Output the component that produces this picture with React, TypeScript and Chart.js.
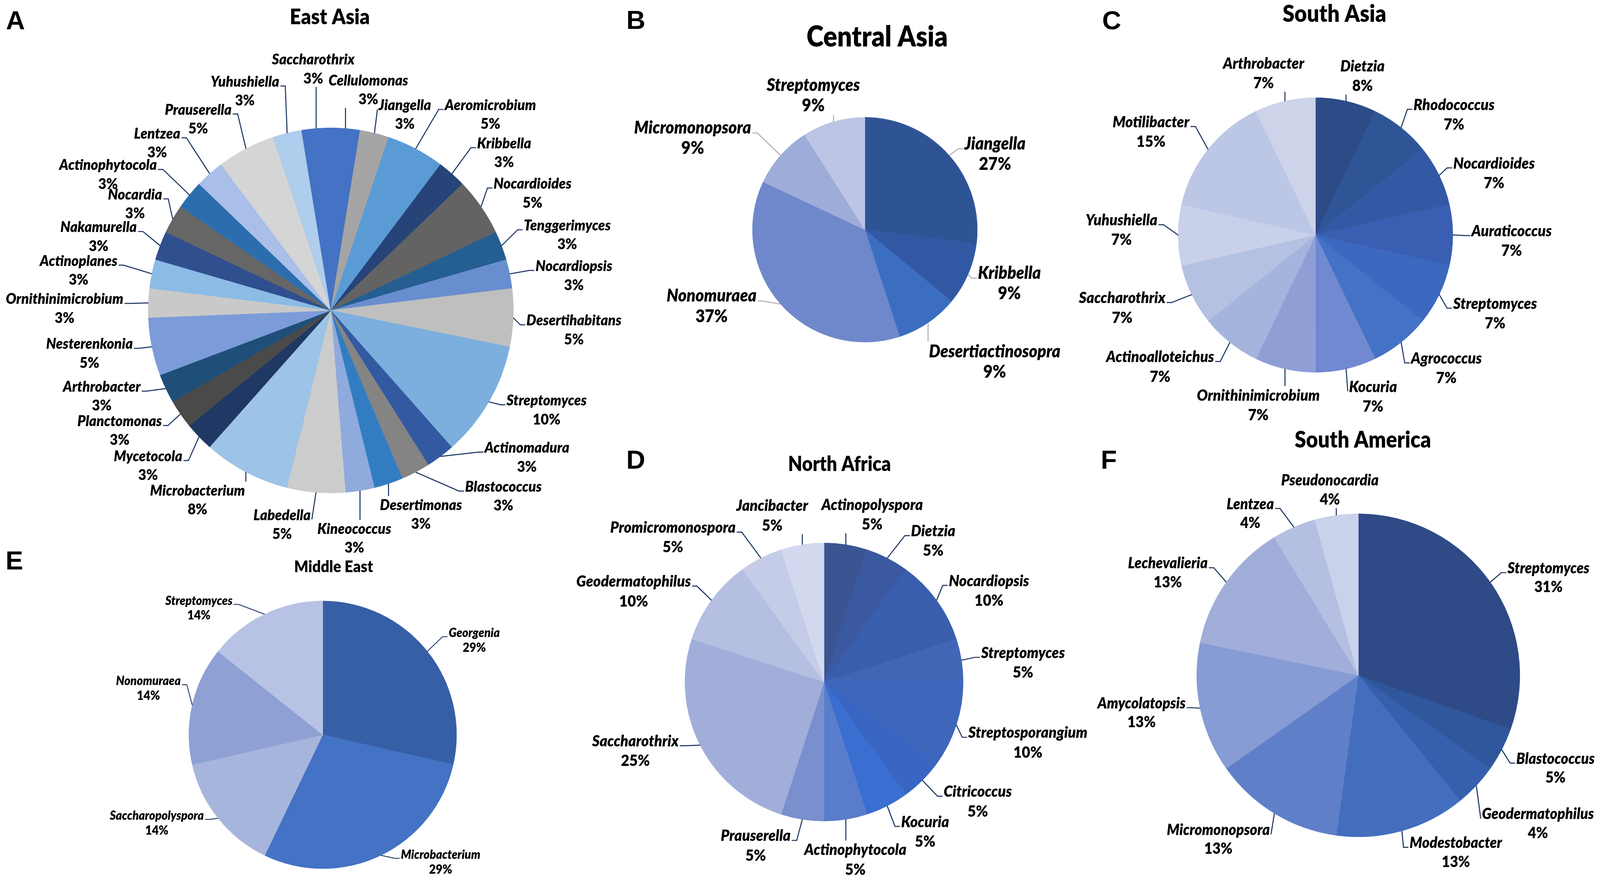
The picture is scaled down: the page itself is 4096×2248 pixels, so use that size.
import React, { useEffect, useRef } from 'react';
import { Chart, registerables } from 'chart.js';

Chart.register(...registerables);

const S = 4096 / 4561;

// ---------------- DATA ----------------
// A: East Asia
const eastAsiaGenera = ['Cellulomonas', 'Jiangella', 'Aeromicrobium', 'Kribbella', 'Nocardioides', 'Tenggerimyces', 'Nocardiopsis', 'Desertihabitans', 'Streptomyces', 'Actinomadura', 'Blastococcus', 'Desertimonas', 'Kineococcus', 'Labedella', 'Microbacterium', 'Mycetocola', 'Planctomonas', 'Arthrobacter', 'Nesterenkonia', 'Ornithinimicrobium', 'Actinoplanes', 'Nakamurella', 'Nocardia', 'Actinophytocola', 'Lentzea', 'Prauserella', 'Yuhushiella', 'Saccharothrix'];
const eastAsiaShare = [2.56, 2.56, 5.13, 2.56, 5.13, 2.56, 2.56, 5.13, 10.26, 2.56, 2.56, 2.56, 2.56, 5.13, 7.69, 2.56, 2.56, 2.56, 5.13, 2.56, 2.56, 2.56, 2.56, 2.56, 2.56, 5.13, 2.56, 2.56];
const eastAsiaPct = ['3%', '3%', '5%', '3%', '5%', '3%', '3%', '5%', '10%', '3%', '3%', '3%', '3%', '5%', '8%', '3%', '3%', '3%', '5%', '3%', '3%', '3%', '3%', '3%', '3%', '5%', '3%', '3%'];

// B: Central Asia
const centralAsiaGenera = ['Jiangella', 'Kribbella', 'Desertiactinosopra', 'Nonomuraea', 'Micromonopsora', 'Streptomyces'];
const centralAsiaShare = [27, 9, 9, 37, 9, 9];
const centralAsiaPct = ['27%', '9%', '9%', '37%', '9%', '9%'];

// C: South Asia
const southAsiaGenera = ['Dietzia', 'Rhodococcus', 'Nocardioides', 'Auraticoccus', 'Streptomyces', 'Agrococcus', 'Kocuria', 'Ornithinimicrobium', 'Actinoalloteichus', 'Saccharothrix', 'Yuhushiella', 'Motilibacter', 'Arthrobacter'];
const southAsiaShare = [7.14, 7.14, 7.14, 7.14, 7.14, 7.14, 7.14, 7.14, 7.14, 7.14, 7.14, 14.29, 7.14];
const southAsiaPct = ['8%', '7%', '7%', '7%', '7%', '7%', '7%', '7%', '7%', '7%', '7%', '15%', '7%'];

// D: North Africa
const northAfricaGenera = ['Actinopolyspora', 'Dietzia', 'Nocardiopsis', 'Streptomyces', 'Streptosporangium', 'Citricoccus', 'Kocuria', 'Actinophytocola', 'Prauserella', 'Saccharothrix', 'Geodermatophilus', 'Promicromonospora', 'Jancibacter'];
const northAfricaShare = [5, 5, 10, 5, 10, 5, 5, 5, 5, 25, 10, 5, 5];
const northAfricaPct = ['5%', '5%', '10%', '5%', '10%', '5%', '5%', '5%', '5%', '25%', '10%', '5%', '5%'];

// E: Middle East
const middleEastGenera = ['Georgenia', 'Microbacterium', 'Saccharopolyspora', 'Nonomuraea', 'Streptomyces'];
const middleEastShare = [28.57, 28.57, 14.29, 14.29, 14.29];
const middleEastPct = ['29%', '29%', '14%', '14%', '14%'];

// F: South America
const southAmericaGenera = ['Streptomyces', 'Blastococcus', 'Geodermatophilus', 'Modestobacter', 'Micromonopsora', 'Amycolatopsis', 'Lechevalieria', 'Lentzea', 'Pseudonocardia'];
const southAmericaShare = [30.43, 4.35, 4.35, 13.04, 13.04, 13.04, 13.04, 4.35, 4.35];
const southAmericaPct = ['31%', '5%', '4%', '13%', '13%', '13%', '13%', '4%', '4%'];

// ---------------- STYLES ----------------
const eastAsiaColors = ['#4472C4', '#A5A5A5', '#5B9BD5', '#264478', '#636363', '#255E91', '#698ED0', '#BFBFBF', '#7CAFDD', '#335AA1', '#848484', '#327DC2', '#8FAADC', '#CCCCCC', '#9DC3E6', '#203864', '#4A4A4A', '#1F4E79', '#7B9CD8', '#C9C9C9', '#8CBBE6', '#2F4F8F', '#666666', '#2C6EAD', '#A9BFE9', '#D5D5D5', '#AFCDEC', '#4472C4'];
const centralAsiaColors = ['#2F5496', '#3358A3', '#3B6DC0', '#6F88CB', '#9EACDA', '#BCC5E5'];
const southAsiaColors = ['#2C4B87', '#2F5597', '#3359A5', '#3A5FB2', '#3D68BF', '#4472C6', '#7089D0', '#8F9FD6', '#A4B4DC', '#B5C1E2', '#C8D0EA', '#BCC7E6', '#CDD4EA'];
const northAfricaColors = ['#3B5593', '#3A59A1', '#3A5EAE', '#4166B6', '#3E66BB', '#3966C3', '#3A6ED0', '#5A7DCB', '#7A8FCD', '#A2AEDA', '#B4BFE2', '#C4CCE8', '#D2D8EE'];
const middleEastColors = ['#365FA6', '#4472C4', '#A6B5DB', '#8FA1D4', '#B8C2E4'];
const southAmericaColors = ['#2E4B87', '#30569C', '#3660AE', '#436EBE', '#5F80C8', '#879BD4', '#A1AEDA', '#B5BFE2', '#CAD1EA'];

// ---------------- LAYOUT (reference pixels) ----------------
type Panel = {
  letter: string;
  title: string;
  names: string[];
  shares: number[];
  pct: string[];
  colors: string[];
  box: [number, number, number, number];
  center: [number, number];
  r: number;
  font: number;
  gap: number;
  leader: string;
  leaderW: number;
  titleSize: number;
  titlePos: [number, number];
  letterPos: [number, number];
  offsets: [number, number][];
};

const eastAsiaLabelOffsets: [number, number][] = [[107, -655], [211, -585], [455, -585], [494, -476], [575, -361], [674, -242], [693, -126], [693, 29], [615, 257], [559, 392], [492, 503], [257, 555], [67, 623], [-139, 584], [-380, 514], [-521, 416], [-602, 316], [-653, 218], [-688, 96], [-759, -32], [-719, -141], [-662, -237], [-558, -330], [-635, -414], [-495, -504], [-378, -572], [-245, -652], [-50, -715]];
const centralAsiaLabelOffsets: [number, number][] = [[371, -245], [412, 124], [370, 348], [-437, 189], [-491, -290], [-147, -412]];
const southAsiaLabelOffsets: [number, number][] = [[134, -481], [395, -371], [509, -204], [559, -11], [512, 196], [373, 352], [164, 433], [-163, 458], [-443, 348], [-551, 180], [-553, -42], [-469, -322], [-148, -489]];
const northAfricaLabelOffsets: [number, number][] = [[137, -505], [311, -430], [470, -288], [567, -83], [581, 145], [438, 313], [288, 399], [89, 479], [-195, 439], [-538, 169], [-543, -286], [-431, -440], [-148, -502]];
const middleEastLabelOffsets: [number, number][] = [[432, -290], [336, 342], [-473, 231], [-497, -153], [-353, -382]];
const southAmericaLabelOffsets: [number, number][] = [[542, -305], [562, 238], [512, 396], [278, 478], [-399, 441], [-618, 80], [-543, -319], [-308, -488], [-81, -555]];

const NAVY = '#1F3864';

const panels: Panel[] = [
  {
    letter: 'A', title: 'East Asia', names: eastAsiaGenera, shares: eastAsiaShare, pct: eastAsiaPct, colors: eastAsiaColors,
    box: [0, 0, 1800, 1600], center: [943, 885], r: 521, font: 43, gap: 54, leader: NAVY, leaderW: 3,
    titleSize: 62, titlePos: [940, 69], letterPos: [17, 84], offsets: eastAsiaLabelOffsets,
  },
  {
    letter: 'B', title: 'Central Asia', names: centralAsiaGenera, shares: centralAsiaShare, pct: centralAsiaPct, colors: centralAsiaColors,
    box: [1750, 0, 3120, 1230], center: [2465, 655], r: 321, font: 50, gap: 58, leader: '#A6A6A6', leaderW: 2.5,
    titleSize: 82, titlePos: [2500, 133], letterPos: [1785, 82], offsets: centralAsiaLabelOffsets,
  },
  {
    letter: 'C', title: 'South Asia', names: southAsiaGenera, shares: southAsiaShare, pct: southAsiaPct, colors: southAsiaColors,
    box: [3050, 0, 4561, 1230], center: [3750, 670], r: 392, font: 45, gap: 56, leader: NAVY, leaderW: 3,
    titleSize: 68, titlePos: [3804, 62], letterPos: [3142, 83], offsets: southAsiaLabelOffsets,
  },
  {
    letter: 'D', title: 'North Africa', names: northAfricaGenera, shares: northAfricaShare, pct: northAfricaPct, colors: northAfricaColors,
    box: [1600, 1230, 3140, 2503], center: [2349, 1944], r: 397, font: 45, gap: 56, leader: NAVY, leaderW: 3,
    titleSize: 58, titlePos: [2393, 1342], letterPos: [1785, 1336], offsets: northAfricaLabelOffsets,
  },
  {
    letter: 'E', title: 'Middle East', names: middleEastGenera, shares: middleEastShare, pct: middleEastPct, colors: middleEastColors,
    box: [0, 1530, 1700, 2503], center: [920, 2095], r: 382, font: 36, gap: 42, leader: NAVY, leaderW: 2.5,
    titleSize: 47, titlePos: [951, 1631], letterPos: [16, 1623], offsets: middleEastLabelOffsets,
  },
  {
    letter: 'F', title: 'South America', names: southAmericaGenera, shares: southAmericaShare, pct: southAmericaPct, colors: southAmericaColors,
    box: [3080, 1200, 4561, 2503], center: [3872, 1925], r: 461, font: 44, gap: 54, leader: NAVY, leaderW: 3,
    titleSize: 65, titlePos: [3885, 1276], letterPos: [3138, 1336], offsets: southAmericaLabelOffsets,
  },
];

const FAMILY = 'Lato, "Open Sans", "Noto Sans", sans-serif';
const WEIGHT = 800;
const LABEL_SX = 0.92;
const TITLE_SX = 0.9;

function drawText(ctx: CanvasRenderingContext2D, t: string, x: number, y: number, font: string, sx: number, align: CanvasTextAlign, baseline: CanvasTextBaseline) {
  ctx.save();
  ctx.font = font;
  ctx.textAlign = align;
  ctx.textBaseline = baseline;
  ctx.translate(x, y);
  ctx.scale(sx, 1);
  ctx.fillText(t, 0, 0);
  ctx.restore();
}

function measure(ctx: CanvasRenderingContext2D, t: string, font: string, sx: number) {
  ctx.font = font;
  return ctx.measureText(t).width * sx;
}

function makePlugin(p: Panel) {
  return {
    id: 'panelText' + p.letter,
    afterDraw(chart: any) {
      const ctx: CanvasRenderingContext2D = chart.ctx;
      const X = (v: number) => (v - p.box[0]) * S;
      const Y = (v: number) => (v - p.box[1]) * S;
      ctx.save();
      ctx.fillStyle = '#000';
      // panel letter
      drawText(ctx, p.letter, X(p.letterPos[0]), Y(p.letterPos[1]), `bold ${75 * S}px "Liberation Sans", Arial, sans-serif`, 1, 'left', 'alphabetic');
      // title
      drawText(ctx, p.title, X(p.titlePos[0]), Y(p.titlePos[1]), `${WEIGHT} ${p.titleSize * S}px ${FAMILY}`, TITLE_SX, 'center', 'alphabetic');

      const fs = p.font * S;
      const nameFont = `italic ${WEIGHT} ${fs}px ${FAMILY}`;
      const pctFont = `${WEIGHT} ${fs}px ${FAMILY}`;
      const meta = chart.getDatasetMeta(0);
      meta.data.forEach((arc: any, i: number) => {
        const pr = arc.getProps(['x', 'y', 'startAngle', 'endAngle', 'outerRadius'], true);
        const mid = (pr.startAngle + pr.endAngle) / 2;
        const ex = pr.x + pr.outerRadius * Math.cos(mid);
        const ey = pr.y + pr.outerRadius * Math.sin(mid);
        const off = p.offsets[i];
        const nx = pr.x + off[0] * S;
        const ny = pr.y + off[1] * S;
        const py = ny + p.gap * S;
        const name = p.names[i];
        const pct = p.pct[i];
        const nw = measure(ctx, name, nameFont, LABEL_SX);
        const nl = nx - nw / 2;
        const nr = nx + nw / 2;
        const top = ny - fs * 0.55;
        const bottom = py + fs * 0.5;
        const knee = 14 * S;
        let pts: [number, number][];
        if (ex < nl - 6) {
          const ax = nl - 3, ay = ny + fs * 0.28;
          pts = ex < ax - knee ? [[ex, ey], [ax - knee, ay], [ax, ay]] : [[ex, ey], [ax, ay]];
        } else if (ex > nr + 6) {
          const ax = nr + 3, ay = ny + fs * 0.28;
          pts = ex > ax + knee ? [[ex, ey], [ax + knee, ay], [ax, ay]] : [[ex, ey], [ax, ay]];
        } else if (ey > bottom) {
          pts = [[ex, ey], [ex, bottom + 2]];
        } else {
          pts = [[ex, ey], [ex, top - 2]];
        }
        ctx.save();
        ctx.strokeStyle = p.leader;
        ctx.lineWidth = p.leaderW * S;
        ctx.beginPath();
        ctx.moveTo(pts[0][0], pts[0][1]);
        for (let k = 1; k < pts.length; k++) ctx.lineTo(pts[k][0], pts[k][1]);
        ctx.stroke();
        ctx.restore();
        ctx.fillStyle = '#000';
        drawText(ctx, name, nx, ny, nameFont, LABEL_SX, 'center', 'middle');
        drawText(ctx, pct, nx, py, pctFont, LABEL_SX, 'center', 'middle');
      });
      ctx.restore();
    },
  };
}

function PiePanel({ p }: { p: Panel }) {
  const ref = useRef<HTMLCanvasElement | null>(null);
  const left = Math.round(p.box[0] * S);
  const top = Math.round(p.box[1] * S);
  const w = Math.round((p.box[2] - p.box[0]) * S);
  const h = Math.round((p.box[3] - p.box[1]) * S);
  useEffect(() => {
    const canvas = ref.current;
    if (!canvas) return;
    const cx = (p.center[0] - p.box[0]) * S;
    const cy = (p.center[1] - p.box[1]) * S;
    const r = p.r * S;
    const chart = new Chart(canvas, {
      type: 'pie',
      data: {
        labels: p.names,
        datasets: [{ data: p.shares, backgroundColor: p.colors, borderColor: p.colors, borderWidth: 1 }],
      },
      options: {
        responsive: false,
        animation: false,
        devicePixelRatio: 1,
        events: [],
        layout: { padding: { left: cx - r, top: cy - r, right: w - (cx + r), bottom: h - (cy + r) } },
        plugins: { legend: { display: false }, tooltip: { enabled: false }, title: { display: false } },
      },
      plugins: [makePlugin(p)],
    } as any);
    if ((document as any).fonts && (document as any).fonts.ready) {
      (document as any).fonts.ready.then(() => { try { chart.draw(); } catch (e) { /* ignore */ } });
    }
    return () => chart.destroy();
  }, []);
  return (
    <canvas
      ref={ref}
      width={w}
      height={h}
      style={{ position: 'absolute', left, top, width: w, height: h }}
    />
  );
}

export default function App() {
  return (
    <div style={{ position: 'absolute', left: 0, top: 0, width: 4096, height: 2248, background: '#fff', overflow: 'hidden' }}>
      {panels.map((p) => (
        <PiePanel key={p.letter} p={p} />
      ))}
    </div>
  );
}
